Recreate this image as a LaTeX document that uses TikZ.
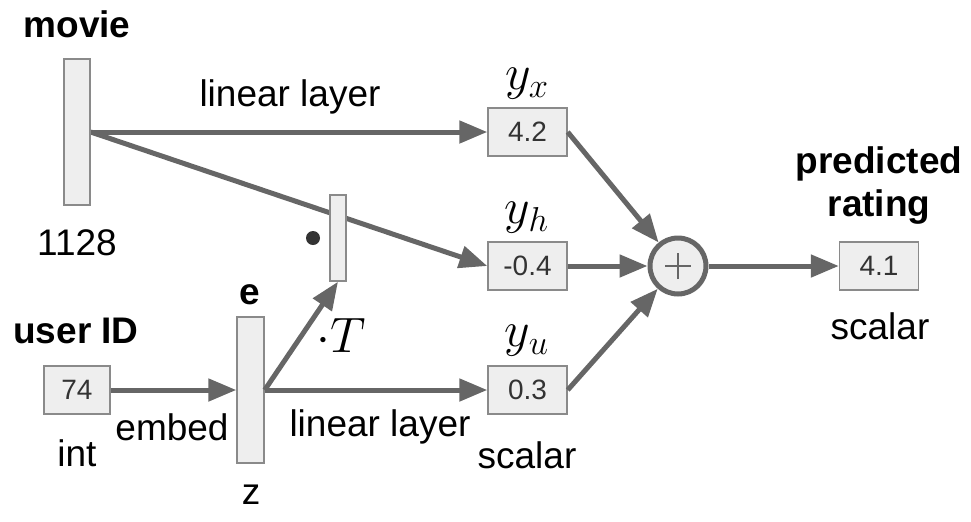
\documentclass[tikz,border=0pt]{standalone}
\usepackage{fontspec}
\setmainfont{Liberation Sans}
\usepackage{tikz}
\usetikzlibrary{arrows.meta,positioning,backgrounds}
\definecolor{Wire}{HTML}{666666}
\definecolor{Edge}{HTML}{8A8A8A}
\definecolor{Cell}{HTML}{EEEEEE}
\definecolor{Ink}{HTML}{333333}

\begin{document}
\begin{tikzpicture}[
  x=0.5pt,y=-0.5pt,
  vec/.style={rectangle,draw=Edge,fill=Cell,line width=0.7pt,inner sep=0pt},
  val/.style={rectangle,draw=Edge,fill=Cell,line width=0.7pt,minimum width=39.5pt,minimum height=24pt,inner sep=0pt,text=Ink,font=\fontsize{14}{16}\selectfont},
  sum/.style={circle,draw=Wire,fill=Cell,line width=2.5pt,minimum size=28pt,inner sep=0pt,
    path picture={\draw[Wire,line width=0.8pt] (path picture bounding box.center) ++(-6.5pt,0) -- ++(13pt,0)
      (path picture bounding box.center) ++(0,-6.5pt) -- ++(0,13pt);}},
  line/.style={draw=Wire,line width=2.5pt},
  arrow/.style={-{Triangle[length=14pt,width=11pt]},line width=2.5pt,draw=Wire},
  lbl/.style={inner sep=0pt,font=\fontsize{18.5}{21.5}\selectfont},
  head/.style={inner sep=0pt,align=center,font=\fontsize{18.5}{21.5}\selectfont\bfseries},
  mth/.style={inner sep=0pt,font=\fontsize{26}{30}\selectfont}
]
\useasboundingbox (0,0) rectangle (971,521);
% inputs
\node[head] (movie) at (77,24) {movie};
\node[vec,minimum width=13pt,minimum height=73pt] (mv) at (77,132) {};
\node[lbl] (dim) at (77,243) {1128};
\node[head] (user) at (76,331) {user ID};
\node[val,minimum width=33pt] (uid) at (77,390) {74};
\node[lbl] (int) at (77,453) {int};
\node[lbl] (embed) at (172,427) {embed};
% embedding
\node[head] (elbl) at (250,295) {e};
\node[vec,minimum width=13.5pt,minimum height=73pt] (e) at (250.5,390) {};
\node[lbl] (z) at (251,495) {z};
\node[vec,minimum width=8pt,minimum height=43pt] (h) at (338,238) {};
\node[circle,fill=Ink,minimum size=7pt,inner sep=0pt] (dot) at (313,238) {};
\node[mth] (dotT) at (341,335) {$\cdot T$};
% scalar outputs
\node[val] (yx) at (527.5,132) {4.2};
\node[val] (yh) at (527.5,266) {-0.4};
\node[val] (yu) at (527.5,390) {0.3};
\node[mth] (lx) at (527,84) {$y_x$};
\node[mth] (lh) at (527,218) {$y_h$};
\node[mth] (lu) at (527,341) {$y_u$};
\node[lbl] (lin1) at (290,97) {linear layer};
\node[lbl] (lin2) at (380,427) {linear layer};
\node[lbl] (sc1) at (527,455) {scalar};
% result
\node[sum] (s) at (678,266) {};
\node[val] (out) at (879,266) {4.1};
\node[head] (pred) at (879,186) {predicted\\rating};
\node[lbl] (sc2) at (880,326) {scalar};

\begin{pgfonlayer}{background}
\draw[arrow] (mv.east) -- (yh.west);
\end{pgfonlayer}
\draw[arrow] (mv.east) -- (yx.west);
\draw[arrow] (uid.east) -- (e.west);
\draw[arrow] (e.east) -- (h.south);
\draw[arrow] (e.east) -- (yu.west);
\draw[arrow] (yx.east) -- (s);
\draw[arrow] (yh.east) -- (s);
\draw[arrow] (yu.east) -- (s);
\draw[arrow] (s) -- (out.west);
\end{tikzpicture}
\end{document}
